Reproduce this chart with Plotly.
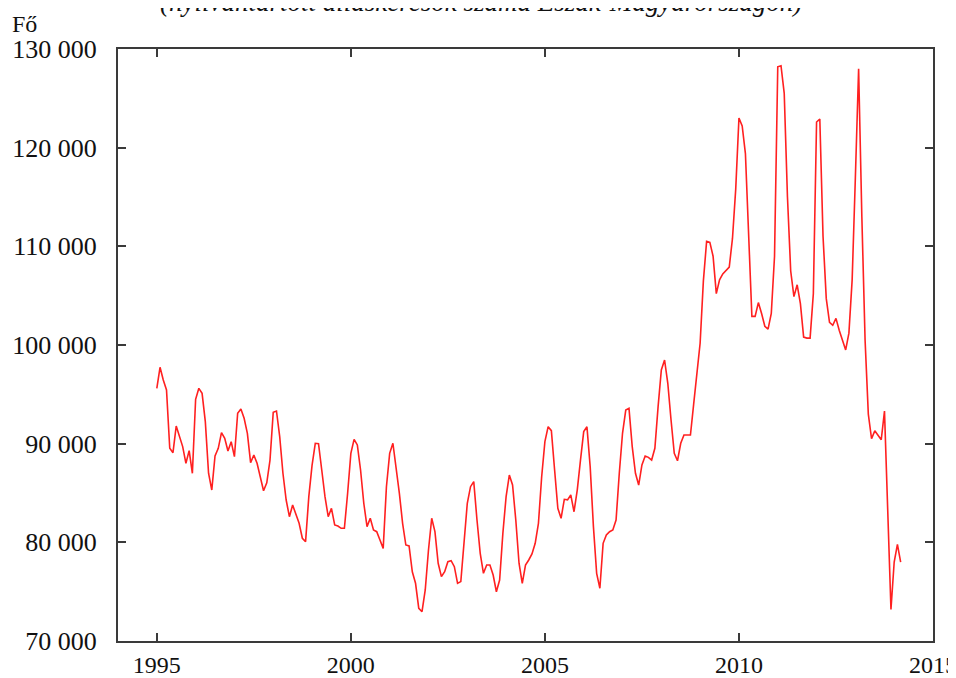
import plotly.graph_objects as go

start_year = 1995
values_1995 = [95600, 97740, 96450, 95440, 89530, 89090, 91790, 90710, 89700, 88010, 89290, 87000]
values_1996 = [94500, 95610, 95100, 92230, 87000, 85300, 88750, 89530, 91110, 90540, 89260, 90200]
values_1997 = [88680, 93080, 93510, 92570, 91050, 88070, 88850, 88010, 86490, 85230, 86040, 88340]
values_1998 = [93180, 93310, 90710, 87000, 84290, 82600, 83780, 82770, 81930, 80410, 80070, 84630]
values_1999 = [87800, 90040, 90000, 87330, 84630, 82600, 83450, 81760, 81650, 81420, 81420, 84970]
values_2000 = [89020, 90440, 89870, 87330, 83960, 81590, 82440, 81250, 81080, 80240, 79390, 85640]
values_2001 = [89020, 90040, 87670, 84970, 81930, 79730, 79630, 77020, 75850, 73310, 72970, 75170]
values_2002 = [79220, 82440, 81080, 77880, 76520, 77020, 78040, 78140, 77530, 75850, 76020, 79900]
values_2003 = [83960, 85640, 86150, 82260, 78890, 76860, 77700, 77700, 76690, 74990, 76180, 80910]
values_2004 = [84630, 86820, 85810, 82260, 77880, 75850, 77700, 78210, 78820, 79900, 81930, 86650]
values_2005 = [90200, 91720, 91320, 87330, 83450, 82440, 84360, 84300, 84800, 83100, 85300, 88340]
values_2006 = [91220, 91720, 87670, 81590, 76860, 75340, 79900, 80740, 81080, 81250, 82260, 87000]
values_2007 = [91050, 93410, 93580, 89700, 87000, 85810, 87840, 88750, 88610, 88340, 89530, 93750]
values_2008 = [97470, 98480, 96120, 92400, 89020, 88270, 90040, 90880, 90850, 90880, 94000, 97000]
values_2009 = [100200, 106500, 110500, 110400, 109000, 105200, 106600, 107200, 107600, 107900, 110800, 115800]
values_2010 = [123000, 122200, 119400, 111000, 102900, 102900, 104300, 103200, 101900, 101600, 103200, 109000]
values_2011 = [128200, 128300, 125500, 115000, 107500, 104900, 106100, 104200, 100800, 100700, 100700, 105200]
values_2012 = [122600, 122900, 111000, 104700, 102300, 102000, 102700, 101500, 100500, 99500, 101200, 106600]
values_2013 = [117000, 128000, 113000, 100500, 93000, 90500, 91300, 90900, 90400, 93300, 83000, 73200]
values_2014 = [78000, 79800, 78000]

y_tick_values = [70000, 80000, 90000, 100000, 110000, 120000, 130000]
y_tick_labels = ["70 000", "80 000", "90 000", "100 000", "110 000", "120 000", "130 000"]
x_tick_values = [1995, 2000, 2005, 2010, 2015]
x_tick_labels = ["1995", "2000", "2005", "2010", "2015"]

title_text = "(nyilvántartott álláskeresők száma Észak-Magyarországon)"
unit_text = "Fő"

all_values = (values_1995 + values_1996 + values_1997 + values_1998 + values_1999 +
              values_2000 + values_2001 + values_2002 + values_2003 + values_2004 +
              values_2005 + values_2006 + values_2007 + values_2008 + values_2009 +
              values_2010 + values_2011 + values_2012 + values_2013 + values_2014)
x_dates = [start_year + i / 12 for i in range(len(all_values))]

FONT = "Liberation Serif, Times New Roman, serif"
AXIS_COLOR = "#3a3a3a"

fig = go.Figure()
fig.add_trace(go.Scatter(x=x_dates, y=all_values, mode="lines",
                         line=dict(color="#ff2020", width=1.6),
                         hoverinfo="skip", showlegend=False))

axis_common = dict(showgrid=False, zeroline=False, showline=True, linecolor=AXIS_COLOR,
                   linewidth=2, mirror="ticks", ticks="inside", ticklen=8, tickwidth=1.5,
                   tickcolor=AXIS_COLOR, automargin=False, ticklabeloverflow="allow")

fig.update_xaxes(range=[1994, 2015], tickvals=x_tick_values, ticktext=x_tick_labels,
                 ticklabelstandoff=1, tickfont=dict(family=FONT, size=24, color="#111"),
                 **axis_common)
fig.update_yaxes(range=[70000, 130000], tickvals=y_tick_values, ticktext=y_tick_labels,
                 ticklabelstandoff=14, tickfont=dict(family=FONT, size=26, color="#111"),
                 **axis_common)

fig.add_annotation(text=title_text, xref="paper", yref="paper", x=0.445, y=1.05,
                   xanchor="center", yanchor="bottom", showarrow=False,
                   font=dict(family=FONT, size=27, color="#111", style="italic"))
fig.add_annotation(text=unit_text, xref="paper", yref="paper", x=-0.132, y=1.042,
                   xanchor="left", yanchor="middle", showarrow=False,
                   font=dict(family=FONT, size=24, color="#111"))

# The page body has an 8 px margin, so the figure is placed 8 px in from the top-left.
fig.update_layout(width=948, height=670, margin=dict(l=110, r=23, t=41, b=37),
                  paper_bgcolor="white", plot_bgcolor="white")

fig.write_html("out.html")
